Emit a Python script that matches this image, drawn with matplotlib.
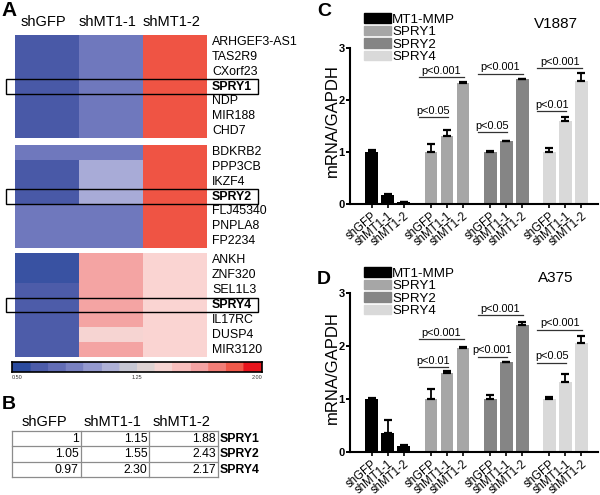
import numpy as np
import matplotlib
matplotlib.use('Agg')
import matplotlib.pyplot as plt
from matplotlib.colors import LinearSegmentedColormap
from matplotlib.patches import Rectangle, Patch

plt.rcParams['font.family'] = ['Liberation Sans', 'DejaVu Sans']

W, H = 600, 495

# ---------------- data ----------------
conditions = ['shGFP', 'shMT1-1', 'shMT1-2']

block1_genes = ['ARHGEF3-AS1', 'TAS2R9', 'CXorf23', 'SPRY1', 'NDP', 'MIR188', 'CHD7']
block2_genes = ['BDKRB2', 'PPP3CB', 'IKZF4', 'SPRY2', 'FLJ45340', 'PNPLA8', 'FP2234']
block3_genes = ['ANKH', 'ZNF320', 'SEL1L3', 'SPRY4', 'IL17RC', 'DUSP4', 'MIR3120']

block1_vals = [[0.60, 0.80, 1.90], [0.60, 0.80, 1.90], [0.60, 0.80, 1.90], [0.60, 0.80, 1.90],
               [0.60, 0.80, 1.90], [0.60, 0.80, 1.90], [0.60, 0.80, 1.90]]
block2_vals = [[0.80, 0.80, 1.90], [0.60, 1.05, 1.90], [0.60, 1.05, 1.90], [0.60, 1.05, 1.90],
               [0.80, 0.80, 1.90], [0.80, 0.80, 1.90], [0.80, 0.80, 1.90]]
block3_vals = [[0.55, 1.65, 1.45], [0.55, 1.65, 1.45], [0.62, 1.65, 1.45], [0.62, 1.65, 1.45],
               [0.62, 1.65, 1.45], [0.62, 1.43, 1.45], [0.62, 1.65, 1.45]]

colorbar_ticks = ['0.50', '1.25', '2.00']

table_rows = ['SPRY1', 'SPRY2', 'SPRY4']
table_text = [['1', '1.15', '1.88'],
              ['1.05', '1.55', '2.43'],
              ['0.97', '2.30', '2.17']]

series = ['MT1-MMP', 'SPRY1', 'SPRY2', 'SPRY4']
series_colors = ['#000000', '#a6a6a6', '#858585', '#d9d9d9']

c_vals = [[1.00, 0.18, 0.03], [1.00, 1.31, 2.33], [1.00, 1.21, 2.40], [1.00, 1.60, 2.36]]
c_errs = [[0.03, 0.01, 0.01], [0.15, 0.12, 0.02], [0.01, 0.01, 0.01], [0.07, 0.08, 0.16]]
c_sig = [(1, 0, 1, 1.67, 'p<0.05'), (1, 0, 2, 2.44, 'p<0.001'),
         (2, 0, 1, 1.38, 'p<0.05'), (2, 0, 2, 2.50, 'p<0.001'),
         (3, 0, 1, 1.78, 'p<0.01'), (3, 0, 2, 2.61, 'p<0.001')]

d_vals = [[1.00, 0.36, 0.12], [1.00, 1.50, 1.97], [1.00, 1.69, 2.40], [1.00, 1.32, 2.06]]
d_errs = [[0.01, 0.24, 0.01], [0.18, 0.03, 0.01], [0.08, 0.01, 0.06], [0.03, 0.16, 0.13]]
d_sig = [(1, 0, 1, 1.60, 'p<0.01'), (1, 0, 2, 2.13, 'p<0.001'),
         (2, 0, 1, 1.80, 'p<0.001'), (2, 0, 2, 2.58, 'p<0.001'),
         (3, 0, 1, 1.68, 'p<0.05'), (3, 0, 2, 2.31, 'p<0.001')]

# ---------------- helpers ----------------
fig = plt.figure(figsize=(6, 4.95), dpi=100)


def px(x0, y0, x1, y1):
    return [x0 / W, 1 - y1 / H, (x1 - x0) / W, (y1 - y0) / H]


cmap = LinearSegmentedColormap.from_list('hm', [
    (0.0, '#2b4b9e'), (0.0667, '#4a5aa8'), (0.2, '#6f78bd'), (0.3667, '#a9acd8'),
    (0.5, '#d2d2d2'), (0.6333, '#fbd5d3'), (0.7667, '#f5a5a5'), (0.9333, '#f05545'),
    (1.0, '#e8141c')])

# ---------------- panel A ----------------
blocks = [(block1_genes, block1_vals, (35, 138)),
          (block2_genes, block2_vals, (145, 248)),
          (block3_genes, block3_vals, (253, 357))]
for bi, (genes, vals, (y0, y1)) in enumerate(blocks):
    ax = fig.add_axes(px(15, y0, 207, y1))
    ax.imshow(np.array(vals), cmap=cmap, vmin=0.5, vmax=2.0, aspect='auto',
              interpolation='nearest')
    ax.set_xlim(-0.5, 2.5)
    ax.set_ylim(len(genes) - 0.5, -0.5)
    ax.axis('off')
    for r, g in enumerate(genes):
        bold = g.startswith('SPRY')
        ax.text(2.58, r, g, va='center', ha='left', fontsize=8.9,
                fontweight='bold' if bold else 'normal', clip_on=False)
        if bold:
            ax.add_patch(Rectangle((-0.64, r - 0.5), 3.94, 1.0, fill=False,
                                   lw=1.0, ec='black', clip_on=False))
    if bi == 0:
        for i, c in enumerate(conditions):
            ax.text(i - 0.05, -1.35, c, ha='center', va='center', fontsize=10.5)

# colorbar
cax = fig.add_axes(px(12, 362, 262, 372))
cax.imshow(np.linspace(0.5, 2.0, 256)[None, :], cmap=cmap.resampled(14),
           vmin=0.5, vmax=2.0, aspect='auto', extent=(0.5, 2.0, 0, 1))
cax.set_xticks([])
cax.set_yticks([])
for s in cax.spines.values():
    s.set_linewidth(1.2)
for t, ha in zip(colorbar_ticks, ['left', 'center', 'right']):
    cax.text(float(t), -0.3, t, ha=ha, va='top', fontsize=4, color='#333333')

# ---------------- panel B (table) ----------------
tax = fig.add_axes(px(12, 431, 218, 477))
tax.set_xlim(0, 3)
tax.set_ylim(3, 0)
tax.axis('off')
for k in range(4):
    tax.plot([0, 3], [k, k], color='#8c8c8c', lw=0.9, clip_on=False)
    tax.plot([k, k], [0, 3], color='#8c8c8c', lw=0.9, clip_on=False)
for r in range(3):
    for c in range(3):
        tax.text(c + 0.97, r + 0.52, table_text[r][c], ha='right', va='center', fontsize=8.8)
    tax.text(3.03, r + 0.52, table_rows[r], ha='left', va='center', fontsize=8.8,
             fontweight='bold', clip_on=False)
for i, c in enumerate(conditions):
    tax.text(i + 0.47, -0.6, c, ha='center', va='center', fontsize=10.5, clip_on=False)

fig.text(1 / W, 1 - 1 / H, 'A', fontsize=15, fontweight='bold', va='top', ha='left')
fig.text(2 / W, 1 - 396 / H, 'B', fontsize=14, fontweight='bold', va='top', ha='left')

# ---------------- panels C & D ----------------
group_offset = 3.7


def bar_panel(box, vals, errs, sig, cell, letter, legend_top, letter_top):
    ax = fig.add_axes(px(*box))
    xs_all, labels = [], []
    handles = []
    for g, (v, e) in enumerate(zip(vals, errs)):
        xs = [g * group_offset + i for i in range(3)]
        ax.bar(xs, v, width=0.8, color=series_colors[g], edgecolor='none', zorder=2)
        ax.errorbar(xs, v, yerr=[np.zeros(3), e], fmt='none', ecolor='black',
                    elinewidth=1.3, capsize=2.6, capthick=1.6, zorder=3)
        xs_all += xs
        labels += conditions
        handles.append(Patch(color=series_colors[g], label=series[g]))
    for g, i0, i1, y, lab in sig:
        xa = g * group_offset + i0 - 0.75
        xb = g * group_offset + i1 + 0.05
        ax.plot([xa, xb], [y, y], color='#333333', lw=0.9, zorder=4)
        ax.text((xa + xb) / 2, y + 0.03, lab, ha='center', va='bottom', fontsize=7.8)
    left_px, right_px = box[0], box[2]
    unit = 16.0
    ax.set_xlim(-(371.7 - left_px) / unit, (right_px - 371.7) / unit)
    ax.set_ylim(0, 3)
    ax.set_yticks([0, 1, 2, 3])
    ax.set_yticklabels(['0', '1', '2', '3'], fontweight='bold', fontsize=8)
    ax.set_xticks(xs_all)
    ax.set_xticklabels(labels, rotation=40, ha='right', rotation_mode='anchor', fontsize=8.3)
    ax.tick_params(axis='y', length=3, width=1.4, pad=0.8)
    ax.tick_params(axis='x', length=3, width=1.2, pad=1.0)
    for s in ['top', 'right']:
        ax.spines[s].set_visible(False)
    for s in ['left', 'bottom']:
        ax.spines[s].set_linewidth(1.5)
    ax.legend(handles=handles, loc='upper left', bbox_to_anchor=(364 / W, 1 - (legend_top - 1) / H),
              bbox_transform=fig.transFigure, frameon=False, fontsize=9.6,
              handlelength=2.0, handleheight=0.75, labelspacing=0.0, handletextpad=0.1,
              borderpad=0, borderaxespad=0)
    fig.text(556 / W, 1 - (legend_top + 10) / H, cell, ha='center', va='center', fontsize=11)
    fig.text(332 / W, 1 - ((box[1] + box[3]) / 2 - 5) / H, 'mRNA/GAPDH', rotation=90,
             ha='center', va='center', fontsize=12)
    fig.text(317 / W, 1 - letter_top / H, letter, fontsize=14, fontweight='bold',
             va='top', ha='left')
    return ax


bar_panel((350, 48, 598, 204), c_vals, c_errs, c_sig, 'V1887', 'C', 14, 3)
bar_panel((350, 293, 598, 452), d_vals, d_errs, d_sig, 'A375', 'D', 268, 271)

fig.savefig('out.png', dpi=100)
